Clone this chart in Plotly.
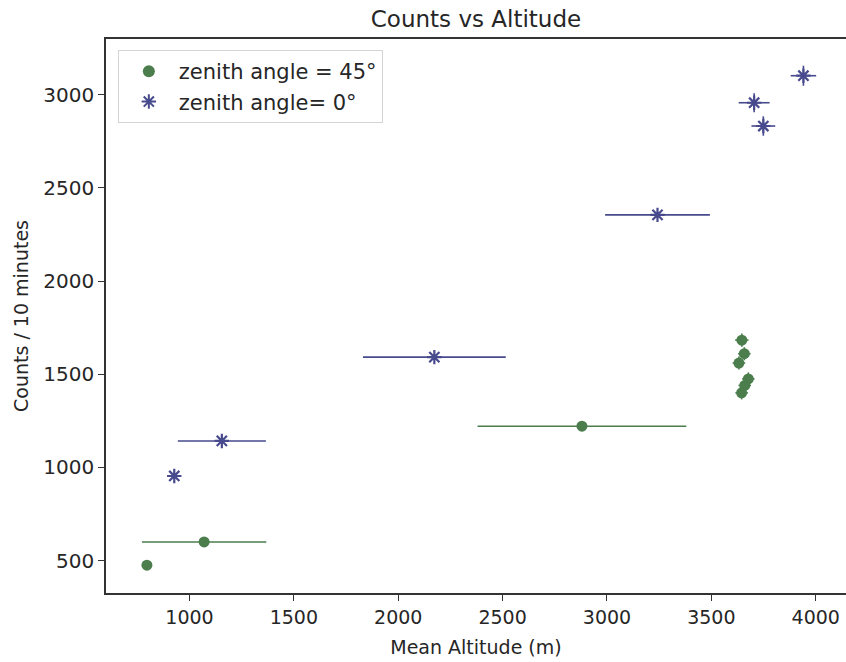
import plotly.graph_objects as go

# zenith angle = 45 deg
alt45 = [796, 1070, 2880, 3646, 3658, 3632, 3677, 3660, 3645]
cnt45 = [475, 600, 1221, 1683, 1610, 1560, 1475, 1440, 1400]
alt45_err = [0, 298, 500, 32, 30, 30, 30, 30, 30]
cnt45_err = [0, 0, 0, 35, 35, 35, 35, 35, 35]

# zenith angle = 0 deg
alt0 = [927, 1155, 2173, 3242, 3705, 3749, 3941]
cnt0 = [954, 1142, 1592, 2355, 2957, 2832, 3102]
alt0_err = [0, 211, 342, 251, 74, 57, 61]
cnt0_err = [0, 0, 0, 0, 51, 52, 54]

x_ticks = [1000, 1500, 2000, 2500, 3000, 3500, 4000]
y_ticks = [500, 1000, 1500, 2000, 2500, 3000]

green = "#4b7d4d"
blue = "#474a8c"
font = "DejaVu Sans"
txt = "#262626"

fig = go.Figure()
fig.add_trace(go.Scatter(
    x=alt45, y=cnt45, mode="markers", name="zenith angle = 45°",
    marker=dict(symbol="circle", size=11, color=green),
    error_x=dict(type="data", array=alt45_err, color=green, thickness=1.6, width=0),
    error_y=dict(type="data", array=cnt45_err, color=green, thickness=1.6, width=0),
))
fig.add_trace(go.Scatter(
    x=alt0, y=cnt0, mode="markers", name="zenith angle= 0°",
    marker=dict(symbol="asterisk-open", size=12, color=blue, line=dict(color=blue, width=2.2)),
    error_x=dict(type="data", array=alt0_err, color=blue, thickness=1.6, width=0),
    error_y=dict(type="data", array=cnt0_err, color=blue, thickness=1.6, width=0),
))

fig.update_layout(
    width=846, height=662,
    margin=dict(l=106, r=0, t=39, b=69, autoexpand=False),
    paper_bgcolor="white", plot_bgcolor="white",
    font=dict(family=font, size=20, color=txt),
    title=dict(text="Counts vs Altitude", x=0.5, xref="paper", xanchor="center",
               y=1 - 19 / 662, yanchor="middle", font=dict(size=23, color=txt)),
    showlegend=True,
    legend=dict(x=0.016, y=0.98, xanchor="left", yanchor="top",
                bordercolor="#d4d4d4", borderwidth=1, bgcolor="rgba(255,255,255,0.8)",
                font=dict(size=21), itemsizing="constant", itemwidth=50),
    xaxis=dict(range=[600, 4145], tickvals=x_ticks, ticktext=[str(v) for v in x_ticks],
               automargin=False,
               showgrid=False, zeroline=False, showline=True, linecolor="#333333",
               linewidth=1.5, mirror=True, ticks="outside", ticklen=6, tickwidth=1.3,
               tickcolor="#333333", tickfont=dict(size=19),
               title=dict(text="Mean Altitude (m)", standoff=14, font=dict(size=19))),
    yaxis=dict(range=[326, 3299], tickvals=y_ticks, ticktext=[str(v) for v in y_ticks],
               automargin=False,
               showgrid=False, zeroline=False, showline=True, linecolor="#333333",
               linewidth=1.5, ticks="outside", ticklen=6, tickwidth=1.3,
               tickcolor="#333333", tickfont=dict(size=20),
               title=dict(text="Counts / 10 minutes", standoff=10, font=dict(size=19))),
)

fig.write_html("out.html", config={"displayModeBar": False},
               post_script="document.body.style.margin='0px';")
